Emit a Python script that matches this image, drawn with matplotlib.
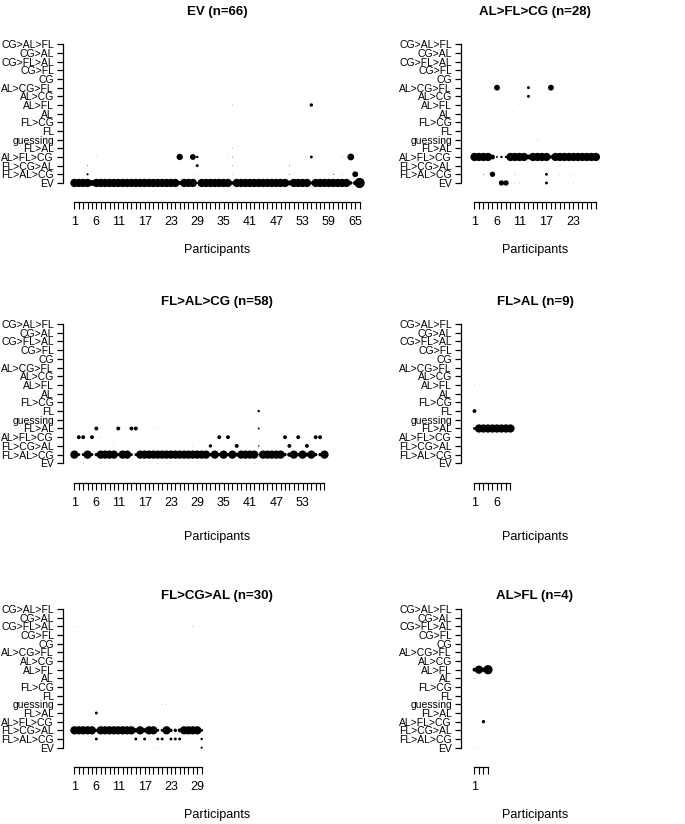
import numpy as np
import matplotlib.pyplot as plt

plt.rcParams['font.family'] = ['Liberation Sans', 'DejaVu Sans']

# strategy categories, bottom (EV) to top
categories = ["EV", "FL>AL>CG", "FL>CG>AL", "AL>FL>CG", "FL>AL", "guessing", "FL",
              "FL>CG", "AL", "AL>FL", "AL>CG", "AL>CG>FL", "CG", "CG>FL",
              "CG>FL>AL", "CG>AL", "CG>AL>FL"]

# panel 1: EV (n=66)
ev_n = 66
ev_main = "EV"
ev_low = {5: 0.6, 25: 0.4, 29: 0.2, 37: 0.35, 50: 0.5, 55: 0.3, 64: 0.35, 65: 0.45, 66: 1.05}
ev_extra = [(4, "FL>AL>CG", 0.22), (4, "FL>CG>AL", 0.08), (6, "AL>FL>CG", 0.05),
            (25, "AL>FL>CG", 0.65), (28, "AL>FL>CG", 0.6), (29, "AL>FL>CG", 0.25),
            (29, "FL>CG>AL", 0.3), (29, "FL>AL>CG", 0.05), (36, "AL>FL>CG", 0.05),
            (37, "AL>FL", 0.06), (37, "FL>AL", 0.06), (37, "AL>FL>CG", 0.08),
            (37, "FL>CG>AL", 0.07), (37, "FL>AL>CG", 0.05), (50, "FL>CG>AL", 0.08),
            (50, "FL>AL>CG", 0.08), (55, "AL>FL", 0.35), (55, "AL>FL>CG", 0.3),
            (60, "FL>AL>CG", 0.1), (62, "FL>AL>CG", 0.06), (62, "AL>FL>CG", 0.06),
            (64, "AL>FL>CG", 0.7), (65, "FL>AL>CG", 0.6), (9, "AL>FL>CG", 0.04),
            (46, "AL>FL>CG", 0.04)]
ev_ticks = [1, 6, 11, 17, 23, 29, 35, 41, 47, 53, 59, 65]

# panel 2: AL>FL>CG (n=28)
alflcg_n = 28
alflcg_main = "AL>FL>CG"
alflcg_low = {5: 0.5, 6: 0.2, 7: 0.25, 8: 0.25, 13: 0.5, 18: 0.35}
alflcg_extra = [(6, "AL>CG>FL", 0.6), (13, "AL>CG>FL", 0.3), (13, "AL>CG", 0.3),
                (18, "AL>CG>FL", 0.6), (5, "FL>AL>CG", 0.55), (3, "FL>AL>CG", 0.08),
                (7, "EV", 0.55), (8, "EV", 0.55), (10, "FL>AL>CG", 0.06), (10, "EV", 0.06),
                (11, "EV", 0.06), (17, "FL>AL>CG", 0.3), (17, "EV", 0.3),
                (20, "FL>AL>CG", 0.06), (20, "FL>CG>AL", 0.06), (20, "EV", 0.05),
                (23, "FL>AL>CG", 0.05), (23, "EV", 0.05), (15, "guessing", 0.05),
                (11, "AL>FL", 0.04)]
alflcg_ticks = [1, 6, 11, 17, 23]

# panel 3: FL>AL>CG (n=58)
flalcg_n = 58
flalcg_main = "FL>AL>CG"
flalcg_low = {2: 0.3, 3: 0.3, 5: 0.3, 6: 0.35, 11: 0.3, 14: 0.3, 15: 0.3, 32: 0.35,
              34: 0.35, 36: 0.35, 38: 0.4, 43: 0.12, 49: 0.35, 50: 0.45, 52: 0.35,
              54: 0.4, 56: 0.35, 57: 0.35}
flalcg_extra = [(2, "AL>FL>CG", 0.4), (3, "AL>FL>CG", 0.4), (5, "AL>FL>CG", 0.4),
                (6, "FL>AL", 0.4), (11, "FL>AL", 0.4), (14, "FL>AL", 0.4), (15, "FL>AL", 0.4),
                (32, "FL>CG>AL", 0.35), (38, "FL>CG>AL", 0.4), (50, "FL>CG>AL", 0.4),
                (54, "FL>CG>AL", 0.4), (34, "AL>FL>CG", 0.4), (36, "AL>FL>CG", 0.4),
                (49, "AL>FL>CG", 0.4), (52, "AL>FL>CG", 0.4), (56, "AL>FL>CG", 0.4),
                (57, "AL>FL>CG", 0.4), (43, "FL", 0.25), (43, "FL>AL", 0.2),
                (43, "FL>CG>AL", 0.15), (7, "AL>FL>CG", 0.05), (10, "FL>CG>AL", 0.05),
                (20, "FL>AL", 0.05), (3, "EV", 0.05), (7, "EV", 0.05), (20, "EV", 0.05),
                (36, "EV", 0.05), (42, "EV", 0.05), (6, "guessing", 0.04),
                (32, "guessing", 0.04), (51, "guessing", 0.04), (28, "FL>CG>AL", 0.05)]
flalcg_ticks = [1, 6, 11, 17, 23, 29, 35, 41, 47, 53]

# panel 4: FL>AL (n=9)
flal_n = 9
flal_main = "FL>AL"
flal_low = {1: 0.3}
flal_extra = [(1, "FL", 0.4), (1, "AL>FL", 0.05), (7, "FL>CG>AL", 0.03), (7, "FL>AL>CG", 0.03)]
flal_ticks = [1, 6]

# panel 5: FL>CG>AL (n=30)
flcgal_n = 30
flcgal_main = "FL>CG>AL"
flcgal_low = {6: 0.3, 15: 0.45, 17: 0.45, 20: 0.3, 21: 0.3, 23: 0.35, 24: 0.35,
              25: 0.4, 30: 0.3}
flcgal_extra = [(6, "FL>AL>CG", 0.3), (6, "FL>AL", 0.3), (15, "FL>AL>CG", 0.3),
                (17, "FL>AL>CG", 0.3), (20, "FL>AL>CG", 0.3), (21, "FL>AL>CG", 0.3),
                (23, "FL>AL>CG", 0.3), (24, "FL>AL>CG", 0.3), (25, "FL>AL>CG", 0.3),
                (30, "FL>AL>CG", 0.25), (30, "EV", 0.22), (20, "EV", 0.05),
                (21, "guessing", 0.05), (22, "guessing", 0.05), (1, "CG>FL>AL", 0.05),
                (28, "CG>FL>AL", 0.06), (30, "CG>FL>AL", 0.04), (30, "AL>FL>CG", 0.04),
                (18, "FL>CG", 0.03)]
flcgal_ticks = [1, 6, 11, 17, 23, 29]

# panel 6: AL>FL (n=4)
alfl_n = 4
alfl_main = "AL>FL"
alfl_low = {1: 0.4, 3: 0.45, 4: 0.95}
alfl_extra = [(3, "AL>FL>CG", 0.35), (1, "AL", 0.06), (1, "EV", 0.05), (1, "AL>CG>FL", 0.04)]
alfl_ticks = [1]

panels = [
    ("EV", ev_n, ev_main, ev_low, ev_extra, ev_ticks),
    ("AL>FL>CG", alflcg_n, alflcg_main, alflcg_low, alflcg_extra, alflcg_ticks),
    ("FL>AL>CG", flalcg_n, flalcg_main, flalcg_low, flalcg_extra, flalcg_ticks),
    ("FL>AL", flal_n, flal_main, flal_low, flal_extra, flal_ticks),
    ("FL>CG>AL", flcgal_n, flcgal_main, flcgal_low, flcgal_extra, flcgal_ticks),
    ("AL>FL", alfl_n, alfl_main, alfl_low, alfl_extra, alfl_ticks),
]

W, H = 685, 824
fig = plt.figure(figsize=(W / 100, H / 100), dpi=100)

# pixel boxes (left, right) per column and (top, bottom) per row
cols = [(63, 371, (-1.6, 68.6)), (461, 609, (-2.0, 30.9))]
rows = [(38.8, 188.5, 12, 250), (318.4, 468.9, 302, 537), (603.5, 753.2, 596, 815)]

full = 0.85
dot = 7.0  # marker diameter (pt) at prob 1

for k, (name, n, main, low, extra, ticks) in enumerate(panels):
    c = cols[k % 2]
    r = rows[k // 2]
    left, right, xl = c
    top, bottom, title_y, lab_y = r
    ax = fig.add_axes([left / W, 1 - bottom / H, (right - left) / W, (bottom - top) / H])

    parts = np.arange(1, n + 1)
    probs = np.array([low.get(p, full) for p in parts])
    ys = np.full(n, categories.index(main))
    ax.scatter(parts, ys, s=(dot * probs) ** 2, color='black', linewidths=0, zorder=3)

    ex_x = [e[0] for e in extra]
    ex_y = [categories.index(e[1]) for e in extra]
    ex_p = np.array([e[2] for e in extra])
    ax.scatter(ex_x, ex_y, s=(dot * ex_p) ** 2, color='black', linewidths=0, zorder=3)

    ax.set_xlim(*xl)
    ax.set_ylim(-0.64, len(categories) - 1 + 0.64)
    for side in ['top', 'right']:
        ax.spines[side].set_visible(False)
    ax.spines['left'].set_bounds(0, len(categories) - 1)
    ax.spines['bottom'].set_bounds(1, n)
    ax.spines['bottom'].set_position(('outward', 10))
    for side in ['left', 'bottom']:
        ax.spines[side].set_linewidth(0.9)

    ax.set_yticks(range(len(categories)))
    ax.set_yticklabels(categories, fontsize=7.5)
    ax.set_xticks(parts)
    ax.set_xticklabels([str(p) if p in ticks else "" for p in parts], fontsize=9)
    ax.tick_params(axis='y', length=4.5, width=0.9, pad=2)
    ax.tick_params(axis='x', length=5, width=0.8, pad=5)

    cx = (left + right) / 2 / W
    fig.text(cx, 1 - title_y / H, f"{name} (n={n})", ha='center', va='center',
             fontsize=9.5, fontweight='bold')
    fig.text(cx, 1 - lab_y / H, "Participants", ha='center', va='center', fontsize=9)

fig.savefig("out.png", dpi=100, facecolor='white')
